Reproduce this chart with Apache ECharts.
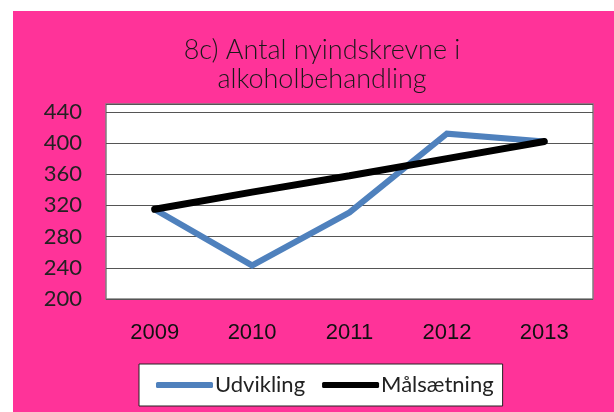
<!DOCTYPE html>
<html>
<head>
<meta charset="utf-8">
<script src="https://cdn.jsdelivr.net/npm/echarts@6/dist/echarts.min.js"></script>
<style>
  html, body { margin: 0; padding: 0; background: #fff; }
  #chart { position: absolute; left: 13px; top: 11px; width: 601px; height: 401px; }
</style>
</head>
<body>
<div id="chart"></div>
<script>
// data
const years = ['2009', '2010', '2011', '2012', '2013'];
const udvikling = [315, 243, 311, 412, 402];
const maalsaetning = [315, 337, 358, 380, 402];
const yTicks = [200, 240, 280, 320, 360, 400, 440];

const chart = echarts.init(document.getElementById('chart'));
const font = 'Lato, "Open Sans", sans-serif';

chart.setOption({
    backgroundColor: '#FF3399',
    animation: false,
    title: {
        text: '8c) Antal nyindskrevne i\nalkoholbehandling',
        left: 304,
        textAlign: 'center',
        top: 20,
        textStyle: { fontFamily: font, fontSize: 27, fontWeight: 300, color: '#1a1a1a', lineHeight: 29 }
    },
    grid: {
        left: 93, top: 93, width: 487, height: 195,
        show: true, backgroundColor: '#fff', borderColor: '#808080', borderWidth: 1.5
    },
    legend: {
        left: 126, top: 353,
        backgroundColor: '#fff', borderColor: '#222', borderWidth: 1,
        padding: [10, 9, 10, 17],
        itemWidth: 57, itemHeight: 6, itemGap: 17,
        icon: 'roundRect',
        textStyle: { fontFamily: font, fontSize: 22, color: '#222', padding: [0, 0, 0, -3] },
        data: ['Udvikling', 'Målsætning']
    },
    xAxis: {
        type: 'category',
        data: years,
        boundaryGap: true,
        axisLine: { show: false },
        axisTick: { show: false },
        axisLabel: { margin: 23, fontFamily: '"Liberation Sans", sans-serif', fontSize: 22, color: '#111' }
    },
    yAxis: {
        type: 'value',
        min: yTicks[0], max: 450, interval: 40,
        axisLine: { show: false },
        axisTick: { show: false },
        splitLine: { lineStyle: { color: '#555', width: 1 } },
        axisLabel: {
            showMaxLabel: false, margin: 24,
            fontFamily: font, fontSize: 22, color: '#222'
        }
    },
    series: [
        {
            name: 'Udvikling', type: 'line', data: udvikling,
            showSymbol: false, symbol: 'none',
            color: '#4F81BD',
            lineStyle: { width: 6, color: '#4F81BD', cap: 'round', join: 'miter' }
        },
        {
            name: 'Målsætning', type: 'line', data: maalsaetning,
            showSymbol: false, symbol: 'none',
            color: '#000',
            lineStyle: { width: 7, color: '#000', cap: 'round' }
        }
    ]
});
</script>
</body>
</html>
